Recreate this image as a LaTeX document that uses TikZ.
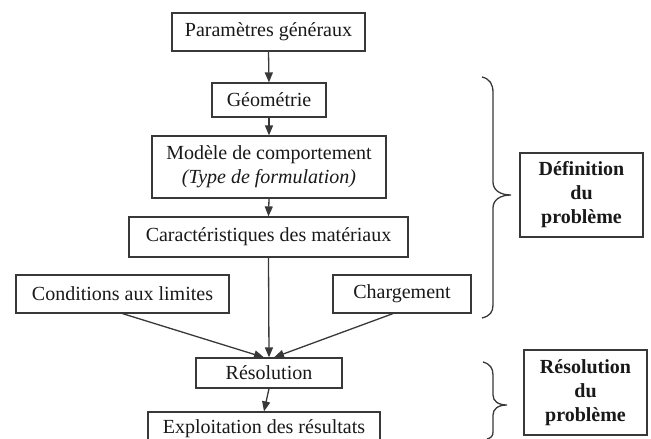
\documentclass[tikz,border=0pt]{standalone}
\usepackage{fontspec}
\setmainfont{Liberation Serif}
\usetikzlibrary{arrows.meta,calc}
\begin{document}
\begin{tikzpicture}[x=1pt,y=-1pt,
  linecol/.style={draw=black!78},
  boxnode/.style={linecol, line width=1.2pt, fill=white, inner sep=0pt, align=center,
    font=\fontsize{20}{24}\selectfont, text=black!90},
  titlebox/.style={boxnode, font=\fontsize{20}{24}\selectfont\bfseries},
  arr/.style={linecol, line width=1.3pt, -{Triangle[length=10pt,width=8pt]}},
  bracestyle/.style={linecol, line width=1.3pt}]
\useasboundingbox (0,0) rectangle (651,439);
\begin{scope}
\clip (0,0) rectangle (651,439);
\node[boxnode, minimum width=193pt, minimum height=38pt] (A) at (268.5,32) {Paramètres généraux};
\node[boxnode, minimum width=114pt, minimum height=34pt] (B) at (269,100) {Géométrie};
\node[boxnode, minimum width=234pt, minimum height=62pt] (C) at (269,167) {Modèle de comportement\\\textit{(Type de formulation)}};
\node[boxnode, minimum width=279pt, minimum height=40pt] (D) at (268.5,237) {Caractéristiques des matériaux};
\node[boxnode, minimum width=213pt, minimum height=38pt] (E) at (122.5,294) {Conditions aux limites};
\node[boxnode, minimum width=138pt, minimum height=38pt] (F) at (402,294) {Chargement};
\node[boxnode, minimum width=146pt, minimum height=30pt] (G) at (269,373) {Résolution};
\node[boxnode, minimum width=232pt, minimum height=34pt] (H) at (264,429) {Exploitation des résultats};
\node[titlebox, minimum width=123pt, minimum height=84pt] (I) at (581.5,195) {Définition\\du\\problème};
\node[titlebox, minimum width=123pt, minimum height=85pt] (J) at (585.5,392.5) {Résolution\\du\\problème};

\draw[arr] (A.south) -- (B.north);
\draw[arr] (B.south) -- (C.north);
\draw[arr] (C.south) -- (D.north);
\draw[arr] (D.south) -- (G.north);
\draw[arr] (E.south) -- ([xshift=-5pt]G.north);
\draw[arr] ([xshift=-9pt]F.south) -- ([xshift=5pt]G.north);
\draw[arr] (G.south) -- (H.north);

\draw[bracestyle] (482,77) .. controls (490,79) and (493,84) .. (493,93)
  -- (493,182) .. controls (493,190) and (500,195) .. (511,195)
  .. controls (500,195) and (493,200) .. (493,208)
  -- (493,305) .. controls (493,312) and (490,316) .. (482,318);
\draw[bracestyle] (483,362) .. controls (490,364) and (493,368) .. (493,375)
  -- (493,395) .. controls (493,401) and (498,405) .. (507,405)
  .. controls (498,405) and (493,409) .. (493,415)
  -- (493,432) .. controls (493,436) and (491,438) .. (487,439);
\end{scope}
\end{tikzpicture}
\end{document}
